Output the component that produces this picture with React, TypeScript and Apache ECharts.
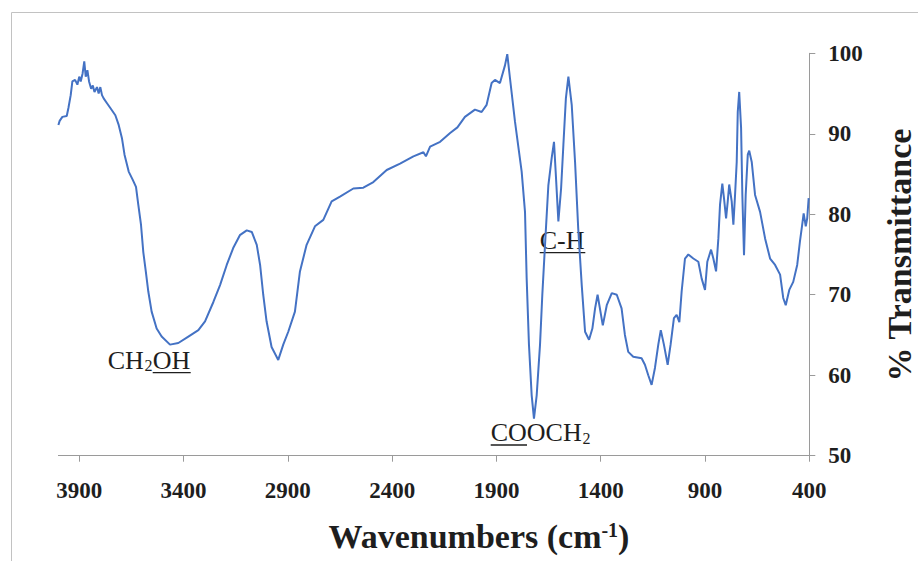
import React, { useEffect, useRef } from "react";
import * as echarts from "echarts";

const wavenumbers = [
  4000, 3994, 3981, 3960, 3952, 3941, 3933, 3920, 3909, 3900, 3893, 3884, 3876, 3869, 3861, 3853,
  3843, 3835, 3827, 3815, 3807, 3799, 3791, 3783, 3767, 3751, 3727, 3711, 3695, 3683, 3663, 3644,
  3628, 3617, 3604, 3593, 3581, 3569, 3553, 3529, 3505, 3465, 3425, 3377, 3329, 3297, 3257, 3225,
  3193, 3162, 3130, 3097, 3073, 3049, 3033, 3018, 3002, 2978, 2946, 2922, 2898, 2866, 2842, 2810,
  2770, 2730, 2690, 2650, 2586, 2538, 2490, 2426, 2362, 2298, 2250, 2238, 2218, 2170, 2122, 2087,
  2051, 2003, 1971, 1947, 1923, 1907, 1883, 1859, 1848, 1835, 1811, 1779, 1763, 1755, 1744, 1731,
  1720, 1707, 1691, 1680, 1667, 1651, 1635, 1624, 1616, 1603, 1590, 1579, 1567, 1555, 1539, 1523,
  1508, 1491, 1475, 1456, 1440, 1427, 1415, 1390, 1371, 1347, 1323, 1300, 1284, 1268, 1244, 1204,
  1188, 1172, 1156, 1140, 1124, 1112, 1097, 1079, 1065, 1049, 1036, 1023, 1012, 996, 980, 956,
  932, 916, 900, 889, 871, 860, 847, 836, 828, 817, 809, 799, 791, 784, 772, 764,
  756, 748, 743, 736, 727, 721, 713, 705, 695, 688, 676, 660, 636, 612, 588, 564,
  540, 525, 513, 496, 477, 458, 445, 434, 427, 417, 410, 403,
];

const transmittance = [
  91.1, 91.6, 92.1, 92.2, 93.2, 94.8, 96.5, 96.7, 96.1, 97.1, 96.5, 97.5, 99.0, 97.1, 97.9, 96.5,
  95.6, 96.0, 95.2, 95.8, 95.0, 95.8, 94.8, 94.4, 93.8, 93.2, 92.3, 91.1, 89.4, 87.4, 85.3, 84.3,
  83.4, 81.2, 78.7, 75.3, 72.9, 70.4, 67.9, 65.8, 64.8, 63.8, 64.0, 64.8, 65.6, 66.7, 69.1, 71.2,
  73.7, 75.8, 77.4, 78.0, 77.8, 76.2, 73.7, 70.0, 66.7, 63.5, 61.9, 63.8, 65.4, 67.9, 72.9, 76.2,
  78.5, 79.3, 81.6, 82.2, 83.2, 83.3, 84.0, 85.5, 86.3, 87.2, 87.7, 87.2, 88.4, 89.0, 90.1, 90.8,
  92.1, 93.0, 92.7, 93.6, 96.3, 96.7, 96.3, 98.5, 99.9, 96.9, 91.5, 85.3, 80.3, 72.0, 63.8, 57.5,
  54.6, 57.5, 63.8, 70.0, 76.2, 83.6, 87.0, 89.0, 85.3, 79.1, 83.2, 88.6, 94.4, 97.1, 93.6, 86.5,
  78.3, 71.2, 65.4, 64.4, 65.8, 68.3, 70.0, 66.2, 68.7, 70.2, 70.0, 68.3, 65.0, 62.9, 62.3, 62.1,
  61.3, 60.0, 58.8, 60.9, 63.8, 65.6, 63.8, 61.3, 63.8, 67.1, 67.5, 66.6, 70.4, 74.5, 75.0, 74.5,
  74.1, 72.0, 70.6, 74.1, 75.6, 74.5, 72.9, 77.0, 81.2, 83.8, 82.0, 79.5, 81.6, 83.7, 81.6, 78.7,
  82.4, 86.5, 92.7, 95.2, 90.7, 82.4, 74.9, 82.4, 87.4, 87.9, 86.5, 82.4, 80.3, 77.0, 74.5, 73.7,
  72.5, 69.6, 68.7, 70.6, 71.6, 73.7, 76.6, 78.7, 80.1, 78.5, 79.5, 82.0,
];

const xTicks = [3900, 3400, 2900, 2400, 1900, 1400, 900, 400];
const yMin = 50;
const yMax = 100;
const yStep = 10;

const SERIF = "'Liberation Serif', 'Times New Roman', serif";
const TEXT = "#1e1e1e";
const AXIS = "#9a9a9a";

export default function App() {
  const ref = useRef<HTMLDivElement>(null);

  useEffect(() => {
    if (!ref.current) return;
    const chart = echarts.init(ref.current, null, { renderer: "svg" });
    const data = wavenumbers.map((w, i) => [w, transmittance[i]]);

    const annFont = { fontFamily: SERIF, fill: TEXT, fontSize: 26 };
    const subFont = { fontFamily: SERIF, fill: TEXT, fontSize: 16 };

    chart.setOption({
      animation: false,
      backgroundColor: "#ffffff",
      grid: { left: 58.4, right: 108.7, top: 53.3, bottom: 105.3 },
      xAxis: {
        type: "value",
        min: 400,
        max: 4000,
        inverse: true,
        axisLine: { show: true, onZero: false, lineStyle: { color: AXIS, width: 1 } },
        axisTick: { show: true, inside: false, length: 6, customValues: xTicks, lineStyle: { color: AXIS } },
        axisLabel: {
          customValues: xTicks,
          formatter: (v: number) => String(Math.round(v)),
          margin: 23.5,
          fontFamily: SERIF,
          fontWeight: "bold",
          fontSize: 23,
          color: TEXT,
        },
        splitLine: { show: false },
      },
      yAxis: {
        type: "value",
        position: "right",
        min: yMin,
        max: yMax,
        interval: yStep,
        axisLine: { show: true, onZero: false, lineStyle: { color: AXIS, width: 1 } },
        axisTick: { show: true, inside: false, length: 6, lineStyle: { color: AXIS } },
        axisLabel: {
          margin: 19,
          formatter: (v: number) => String(Math.round(v)),
          fontFamily: SERIF,
          fontWeight: "bold",
          fontSize: 23,
          color: TEXT,
        },
        splitLine: { show: false },
      },
      series: [
        {
          type: "line",
          data,
          showSymbol: false,
          symbol: "none",
          smooth: false,
          lineStyle: { color: "#4472c4", width: 2 },
          z: 3,
        },
      ],
      graphic: [
        {
          type: "rect",
          silent: true,
          shape: { x: 11.5, y: 12.5, width: 940, height: 600 },
          style: { fill: "none", stroke: "#c2c2c2", lineWidth: 1 },
        },
        {
          type: "text",
          x: 899,
          y: 255,
          rotation: Math.PI / 2,
          style: {
            text: "% Transmittance",
            fontFamily: SERIF,
            fontWeight: "bold",
            fontSize: 34,
            fill: TEXT,
            align: "center",
            verticalAlign: "middle",
          },
        },
        {
          type: "text",
          x: 479,
          y: 536.5,
          style: {
            text: "Wavenumbers (cm{sup|-1})",
            fontFamily: SERIF,
            fontWeight: "bold",
            fontSize: 34,
            fill: TEXT,
            align: "center",
            verticalAlign: "middle",
            rich: {
              sup: {
                fontFamily: SERIF,
                fontWeight: "bold",
                fontSize: 20,
                fill: TEXT,
                verticalAlign: "top",
              },
            },
          },
        },
        // CH2OH
        { type: "text", x: 107.7, y: 360.5, style: { ...annFont, text: "CH", align: "left", verticalAlign: "middle" } },
        { type: "text", x: 144.5, y: 365.3, style: { ...subFont, text: "2", align: "left", verticalAlign: "middle" } },
        { type: "text", x: 152.7, y: 360.5, style: { ...annFont, text: "OH", align: "left", verticalAlign: "middle" } },
        { type: "line", shape: { x1: 152.7, y1: 372.7, x2: 190.7, y2: 372.7 }, style: { stroke: TEXT, lineWidth: 1.3 } },
        // C-H
        { type: "text", x: 539.7, y: 240.5, style: { ...annFont, text: "C-H", align: "left", verticalAlign: "middle" } },
        { type: "line", shape: { x1: 539.7, y1: 252.7, x2: 585.3, y2: 252.7 }, style: { stroke: TEXT, lineWidth: 1.3 } },
        // COOCH2
        { type: "text", x: 490.7, y: 432.7, style: { ...annFont, text: "COOCH", align: "left", verticalAlign: "middle" } },
        { type: "text", x: 582.5, y: 438.5, style: { ...subFont, text: "2", align: "left", verticalAlign: "middle" } },
        { type: "line", shape: { x1: 490.7, y1: 445, x2: 527, y2: 445 }, style: { stroke: TEXT, lineWidth: 1.3 } },
      ],
    });

    return () => chart.dispose();
  }, []);

  return (
    <div
      ref={ref}
      style={{ position: "fixed", left: 0, top: 0, width: 918, height: 561, background: "#ffffff" }}
    />
  );
}
